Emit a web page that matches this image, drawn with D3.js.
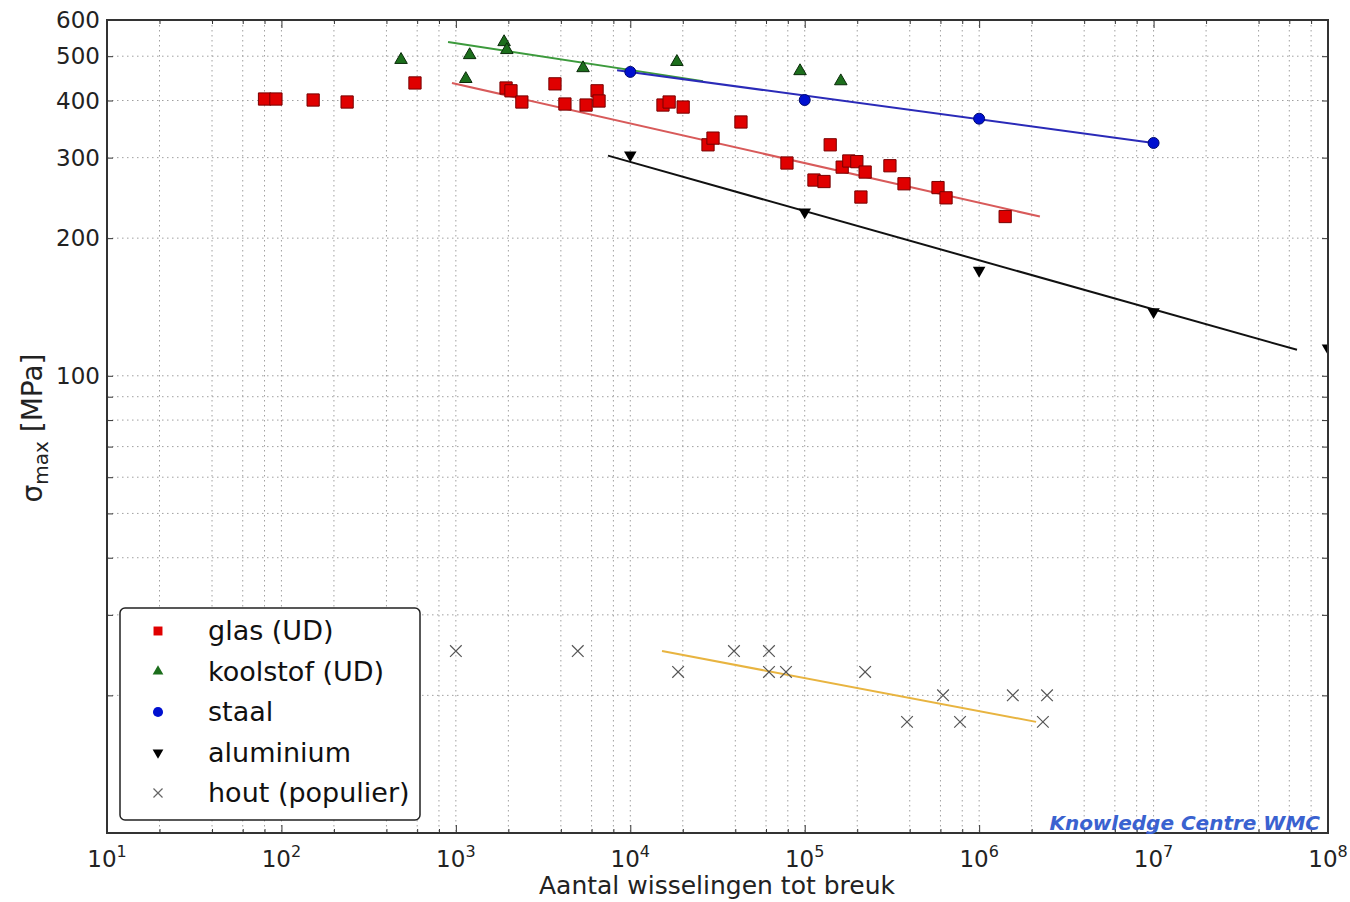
<!DOCTYPE html>
<html>
<head>
<meta charset="utf-8">
<script src="https://cdn.jsdelivr.net/npm/d3@7"></script>
<style>
  body { margin: 0; background: #fff; }
  text { font-family: "DejaVu Sans", sans-serif; }
</style>
</head>
<body>
<svg id="chart" width="1350" height="902"></svg>
<script>
// cycles to failure N, max stress [MPa]
var glasData = [[80,403],[93,403],[152,401],[238,397],[583,437],[1940,426],[2070,420],[2390,397],
  [3700,435],[4220,393],[5580,391],[6450,420],[6620,399],[15400,391],[16700,397],[20100,387],
  [27900,320],[29800,331],[43100,359],[79100,292],[113000,268],[129000,266],[140000,320],
  [164000,286],[179000,295],[199000,294],[222000,279],[210000,246],[308000,288],[371000,263],
  [581000,258],[646000,245],[1410000,223]];
var koolstofData = [[485,491],[1200,503],[1140,446],[1890,537],[1960,516],[5360,471],[18500,486],[94000,464],[161000,441]];
var staalData = [[1e4,462],[1e5,401],[1e6,365],[1e7,323]];
var aluData = [[1e4,304],[1e5,228],[1e6,170],[1e7,138],[1e8,115]];
var houtData = [[1000,25],[5000,25],[18800,22.5],[39300,25],[62400,25],[62400,22.5],[78100,22.5],
  [222000,22.5],[386000,17.5],[621000,20],[777000,17.5],[1560000,20],[2320000,17.5],[2450000,20]];

// fitted lines (start, end)
var glasFit = [[950,437],[2230000,223]];
var koolstofFit = [[902,537],[26100,441]];
var staalFit = [[8400,466],[1e7,323]];
var aluFit = [[7450,303],[6.64e7,114]];
var houtFit = [[15200,25],[2120000,17.5]];

var legendLabels = ["glas (UD)", "koolstof (UD)", "staal", "aluminium", "hout (populier)"];
var yLabels = [100, 200, 300, 400, 500, 600];
var xDecades = [1, 2, 3, 4, 5, 6, 7, 8];
var xMinorSteps = [2, 4, 6, 8];

var svg = d3.select("#chart");
var pL = 107, pR = 1328, pT = 20, pB = 833;

var x = d3.scaleLog().domain([10, 1e8]).range([pL, pR]);
var y = d3.scaleLog().domain([10, 600]).range([pB, pT]);

// tick values
var xMajor = xDecades.map(function(e) { return Math.pow(10, e); });
var xMinor = [];
for (var e = 1; e < 8; e++) xMinorSteps.forEach(function(m) { xMinor.push(m * Math.pow(10, e)); });
var yGrid = [];
[10, 100].forEach(function(b) { for (var m = 1; m <= 9; m++) { var v = m * b; if (v > 10 && v < 600) yGrid.push(v); } });

// grid
var grid = svg.append("g").attr("stroke", "#a0a0a0").attr("stroke-width", 1).attr("stroke-dasharray", "1.5,3.5");
grid.selectAll("line.vx").data(xMajor.concat(xMinor).filter(function(d) { return d > 10 && d < 1e8; }))
  .enter().append("line").attr("x1", function(d) { return x(d); }).attr("x2", function(d) { return x(d); })
  .attr("y1", pT).attr("y2", pB);
grid.selectAll("line.hy").data(yGrid).enter().append("line")
  .attr("x1", pL).attr("x2", pR)
  .attr("y1", function(d) { return y(d); }).attr("y2", function(d) { return y(d); });

// axes ticks (inward)
function axisStyle(g) {
  g.select(".domain").remove();
  g.selectAll("line").attr("stroke", "#333").attr("stroke-width", 1);
  g.selectAll("text").remove();
}
svg.append("g").attr("transform", "translate(0," + pB + ")")
  .call(d3.axisBottom(x).tickValues(xMajor).tickSize(-8)).call(axisStyle);
svg.append("g").attr("transform", "translate(0," + pB + ")")
  .call(d3.axisBottom(x).tickValues(xMinor).tickSize(-4)).call(axisStyle);
svg.append("g").attr("transform", "translate(0," + pT + ")")
  .call(d3.axisTop(x).tickValues(xMajor).tickSize(-8)).call(axisStyle);
svg.append("g").attr("transform", "translate(0," + pT + ")")
  .call(d3.axisTop(x).tickValues(xMinor).tickSize(-4)).call(axisStyle);
svg.append("g").attr("transform", "translate(" + pL + ",0)")
  .call(d3.axisLeft(y).tickValues(yGrid).tickSize(-6)).call(axisStyle);
svg.append("g").attr("transform", "translate(" + pR + ",0)")
  .call(d3.axisRight(y).tickValues(yGrid).tickSize(-6)).call(axisStyle);

// tick labels
var xl = svg.append("g").selectAll("text").data(xDecades).enter().append("text")
  .attr("x", function(d) { return x(Math.pow(10, d)); }).attr("y", 867)
  .attr("text-anchor", "middle").attr("font-size", 23).attr("fill", "#222");
xl.append("tspan").text("10");
xl.append("tspan").attr("dy", -10).attr("font-size", 16).text(function(d) { return d; });

svg.append("g").selectAll("text").data(yLabels).enter().append("text")
  .attr("x", 100).attr("y", function(d) { return y(d) + 8; })
  .attr("text-anchor", "end").attr("font-size", 23).attr("fill", "#222")
  .text(function(d) { return d; });

// fit lines
var line = d3.line().x(function(d) { return x(d[0]); }).y(function(d) { return y(d[1]); });
var fits = [[glasFit, "#d85a5a"], [koolstofFit, "#3c9a3c"], [staalFit, "#2a2ab8"], [aluFit, "#111"], [houtFit, "#e8b440"]];
fits.forEach(function(f) {
  svg.append("path").attr("d", line(f[0])).attr("fill", "none").attr("stroke", f[1]).attr("stroke-width", 2);
});

var plot = svg.append("g");
plot.append("clipPath").attr("id", "clip").append("rect")
  .attr("x", pL - 8).attr("y", pT - 8).attr("width", pR - pL + 8).attr("height", pB - pT + 16);
var marks = plot.append("g").attr("clip-path", "url(#clip)");

function pos(d) { return "translate(" + x(d[0]) + "," + y(d[1]) + ")"; }

marks.selectAll("path.glas").data(glasData).enter().append("path")
  .attr("d", d3.symbol(d3.symbolSquare, 150)).attr("transform", pos)
  .attr("fill", "#e00000").attr("stroke", "#700").attr("stroke-width", 1);
marks.selectAll("path.kool").data(koolstofData).enter().append("path")
  .attr("d", d3.symbol(d3.symbolTriangle, 68)).attr("transform", pos)
  .attr("fill", "#1c6e1c").attr("stroke", "#0a2a0a").attr("stroke-width", 1);
marks.selectAll("path.staal").data(staalData).enter().append("path")
  .attr("d", d3.symbol(d3.symbolCircle, 95)).attr("transform", pos)
  .attr("fill", "#0010d0").attr("stroke", "#000a70").attr("stroke-width", 1);
marks.selectAll("path.alu").data(aluData).enter().append("path")
  .attr("d", d3.symbol(d3.symbolTriangle, 68))
  .attr("transform", function(d) { return pos(d) + " rotate(180)"; })
  .attr("fill", "#000");
marks.selectAll("path.hout").data(houtData).enter().append("path")
  .attr("d", d3.symbol(d3.symbolX, 90)).attr("transform", pos)
  .attr("fill", "none").attr("stroke", "#555").attr("stroke-width", 1.2);

// frame
svg.append("rect").attr("x", pL).attr("y", pT).attr("width", pR - pL).attr("height", pB - pT)
  .attr("fill", "none").attr("stroke", "#333").attr("stroke-width", 2);

// legend
var lg = svg.append("g");
lg.append("rect").attr("x", 120).attr("y", 608).attr("width", 300).attr("height", 212).attr("rx", 5)
  .attr("fill", "#fff").attr("stroke", "#222").attr("stroke-width", 1.5);
var legendSym = [
  [d3.symbolSquare, 80, "#e00000", "none", 0],
  [d3.symbolTriangle, 50, "#1c6e1c", "none", 0],
  [d3.symbolCircle, 80, "#0010d0", "none", 0],
  [d3.symbolTriangle, 50, "#000", "none", 180],
  [d3.symbolX, 55, "none", "#666", 0]
];
legendLabels.forEach(function(t, i) {
  var cy = 631 + i * 40.5;
  var s = legendSym[i];
  lg.append("path").attr("d", d3.symbol(s[0], s[1]))
    .attr("transform", "translate(158," + cy + ") rotate(" + s[4] + ")")
    .attr("fill", s[2]).attr("stroke", s[3]).attr("stroke-width", 1.2);
  lg.append("text").attr("x", 208).attr("y", cy + 9).attr("font-size", 27).attr("fill", "#111").text(t);
});

// axis titles
svg.append("text").attr("x", 717).attr("y", 894).attr("text-anchor", "middle")
  .attr("font-size", 25).attr("fill", "#222").text("Aantal wisselingen tot breuk");
var yt = svg.append("text").attr("transform", "translate(42,428) rotate(-90)")
  .attr("text-anchor", "middle").attr("font-size", 28).attr("fill", "#222");
yt.append("tspan").text("σ");
yt.append("tspan").attr("font-size", 20).attr("dy", 6).text("max");
yt.append("tspan").attr("dy", -6).text(" [MPa]");

// watermark
svg.append("text").attr("x", 1320).attr("y", 830).attr("text-anchor", "end")
  .attr("font-size", 20).attr("font-weight", "bold").attr("font-style", "italic")
  .attr("fill", "#3a62d0").text("Knowledge Centre WMC");
</script>
</body>
</html>
